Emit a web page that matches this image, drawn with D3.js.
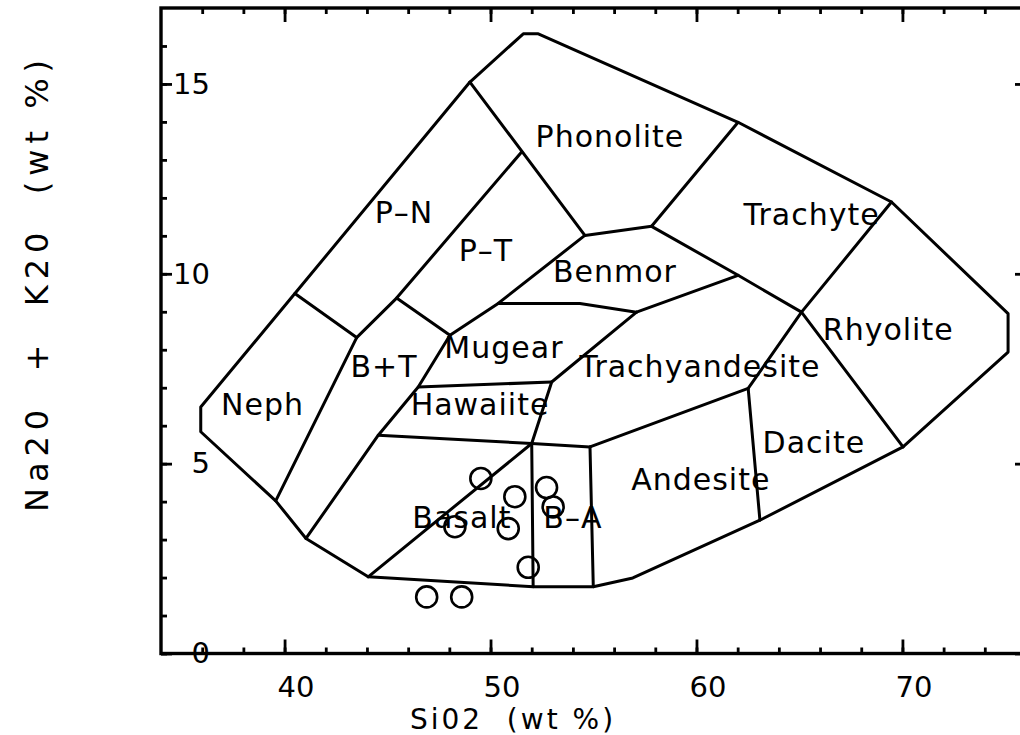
<!DOCTYPE html>
<html><head><meta charset="utf-8">
<script src="https://cdn.jsdelivr.net/npm/d3@7"></script>
<style>
html,body{margin:0;padding:0;background:#fff;}
svg{display:block;}
text{font-family:"DejaVu Sans",sans-serif;fill:#000;}
</style>
</head><body>
<svg id="chart" width="1020" height="735"></svg>
<script>
// ---- data (SiO2 wt %, Na2O+K2O wt %) ----
const xTickLabels = [40, 50, 60, 70];
const yTickLabels = [0, 5, 10, 15];

const outline = [[35.93,6.49],[40.50,9.48],[49.00,15.05],[51.59,16.32],[52.32,16.32],[62.02,13.99],
  [69.47,11.89],[75.13,8.95],[75.13,7.94],[70.03,5.44],[63.08,3.51],[56.91,1.99],[54.99,1.76],
  [52.07,1.76],[44.06,2.02],[41.04,3.03],[39.57,4.02],[35.93,5.84]];

const divides = [
  [[40.50,9.48],[43.50,8.32]],
  [[43.50,8.32],[39.57,4.02]],
  [[51.51,13.21],[45.44,9.36],[43.50,8.32]],
  [[49.00,15.05],[54.58,11.01]],
  [[45.44,9.36],[48.03,8.38]],
  [[48.03,8.38],[50.37,9.22],[54.58,11.01]],
  [[54.58,11.01],[57.82,11.25]],
  [[62.02,13.99],[57.82,11.25]],
  [[57.82,11.25],[62.02,9.96],[65.10,8.99]],
  [[69.47,11.89],[65.10,8.99]],
  [[65.10,8.99],[70.03,5.44]],
  [[57.09,8.99],[62.02,9.96]],
  [[50.37,9.22],[54.34,9.22],[57.09,8.99]],
  [[57.09,8.99],[52.97,7.15],[52.00,5.53]],
  [[48.03,8.38],[46.49,7.02],[44.55,5.75],[41.04,3.03]],
  [[46.49,7.02],[52.97,7.15]],
  [[44.55,5.75],[52.00,5.53]],
  [[52.00,5.53],[44.06,2.02]],
  [[52.00,5.53],[52.07,1.76]],
  [[52.00,5.53],[54.83,5.44]],
  [[54.83,5.44],[54.99,1.76]],
  [[54.83,5.44],[62.51,6.98]],
  [[62.51,6.98],[63.08,3.51]],
  [[62.51,6.98],[65.10,8.99]]
];

const fieldNames = ["Phonolite","P\u2013N","P\u2013T","Benmor","Mugear","Trachyandesite","Trachyte",
  "Rhyolite","Dacite","Andesite","Hawaiite","Neph","B+T","Basalt","B\u2013A"];
const fieldSiO2 = [55.80,45.80,49.78,56.04,50.65,60.17,65.59,69.31,65.70,60.21,49.49,38.93,44.83,48.61,54.00];
const fieldAlk  = [13.34,11.34,10.34,9.78,7.78,7.28,11.28,8.25,5.27,4.30,6.28,6.28,7.28,3.30,3.30];

const sampleSiO2 = [49.53,51.18,52.72,53.04,48.27,50.86,51.83,46.90,48.60];
const sampleAlk  = [4.61,4.13,4.37,3.86,3.34,3.29,2.27,1.49,1.49];

// ---- drawing ----
const svg = d3.select("#chart");
const x = d3.scaleLinear().domain([34, 76]).range([161, 1026]);
const y = d3.scaleLinear().domain([0, 17]).range([653.5, 8]);

const line = d3.line().x(d => x(d[0])).y(d => y(d[1]));

// field boundaries
svg.append("path").datum(outline)
  .attr("d", d => line(d) + "Z")
  .attr("fill", "none").attr("stroke", "#000").attr("stroke-width", 3)
  .attr("stroke-linejoin", "round");
svg.selectAll("path.div").data(divides).join("path").attr("class", "div")
  .attr("d", line).attr("fill", "none").attr("stroke", "#000")
  .attr("stroke-width", 3).attr("stroke-linejoin", "round").attr("stroke-linecap", "round");

// field labels
svg.selectAll("text.field").data(fieldNames).join("text").attr("class", "field")
  .attr("x", (d, i) => x(fieldSiO2[i])).attr("y", (d, i) => y(fieldAlk[i]))
  .attr("text-anchor", "middle").attr("font-size", 30).attr("letter-spacing", 1)
  .text(d => d);

// samples
svg.selectAll("circle.s").data(sampleSiO2).join("circle").attr("class", "s")
  .attr("cx", d => x(d)).attr("cy", (d, i) => y(sampleAlk[i])).attr("r", 10.5)
  .attr("fill", "none").attr("stroke", "#000").attr("stroke-width", 2.6);

// axes
function styleAxis(g) {
  g.select(".domain").remove();
  g.selectAll("line").attr("stroke", "#000").attr("stroke-width", 2.8);
}
const xMinor = d3.range(36, 76, 2);
const yMinor = d3.range(0, 17, 1);

svg.append("g").attr("transform", `translate(0,${y(0)})`)
  .call(d3.axisBottom(x).tickValues(xMinor).tickSize(-6).tickFormat("")).call(styleAxis);
const xMaj = svg.append("g").attr("transform", `translate(0,${y(0)})`)
  .call(d3.axisBottom(x).tickValues(xTickLabels).tickSize(-14).tickPadding(23).tickFormat(d3.format("d")))
  .call(styleAxis);
xMaj.selectAll("text").attr("font-size", 29).attr("font-family", "DejaVu Sans").attr("dx", 11).attr("fill", "#000");

svg.append("g").attr("transform", `translate(0,${y(17)})`)
  .call(d3.axisTop(x).tickValues(xMinor).tickSize(-6).tickFormat("")).call(styleAxis);
svg.append("g").attr("transform", `translate(0,${y(17)})`)
  .call(d3.axisTop(x).tickValues(xTickLabels).tickSize(-14).tickFormat("")).call(styleAxis);

svg.append("g").attr("transform", `translate(${x(34)},0)`)
  .call(d3.axisLeft(y).tickValues(yMinor).tickSize(-6).tickFormat("")).call(styleAxis);
const yMaj = svg.append("g").attr("transform", `translate(${x(34)},0)`)
  .call(d3.axisLeft(y).tickValues(yTickLabels).tickSize(-11).tickFormat(d3.format("d")))
  .call(styleAxis);
yMaj.selectAll("text").attr("x", 49).attr("text-anchor", "end").attr("font-size", 29)
  .attr("font-family", "DejaVu Sans").attr("fill", "#000");

svg.append("g").attr("transform", `translate(${x(76)},0)`)
  .call(d3.axisRight(y).tickValues(yMinor).tickSize(-6).tickFormat("")).call(styleAxis);
svg.append("g").attr("transform", `translate(${x(76)},0)`)
  .call(d3.axisRight(y).tickValues(yTickLabels).tickSize(-11).tickFormat("")).call(styleAxis);

// frame
svg.append("rect").attr("x", x(34)).attr("y", y(17))
  .attr("width", x(76) - x(34)).attr("height", y(0) - y(17))
  .attr("fill", "none").attr("stroke", "#000").attr("stroke-width", 3.4);

// axis titles
svg.append("text").attr("x", 513).attr("y", 729).attr("text-anchor", "middle")
  .attr("font-size", 28).attr("letter-spacing", 3).attr("xml:space", "preserve")
  .text("Si02  (wt %)");
svg.append("text").attr("transform", "translate(48,283) rotate(-90)").attr("text-anchor", "middle")
  .attr("font-size", 32).attr("letter-spacing", 6).attr("xml:space", "preserve")
  .text("Na20  +  K20  (wt %)");
</script>
</body></html>
